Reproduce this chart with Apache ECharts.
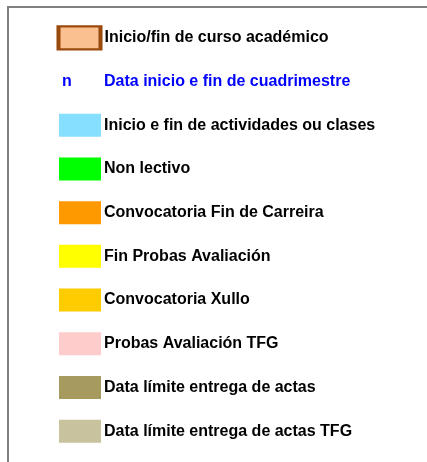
<!DOCTYPE html>
<html>
<head>
<meta charset="utf-8">
<script src="https://cdn.jsdelivr.net/npm/echarts@6/dist/echarts.min.js"></script>
<style>
html,body{margin:0;padding:0;background:#fff;}
#chart{width:427px;height:462px;}
</style>
</head>
<body>
<div id="chart"></div>
<script>
// Legend entries (top to bottom)
const categories = [
  'Inicio/fin de curso académico',
  'Data inicio e fin de cuadrimestre',
  'Inicio e fin de actividades ou clases',
  'Non lectivo',
  'Convocatoria Fin de Carreira',
  'Fin Probas Avaliación',
  'Convocatoria Xullo',
  'Probas Avaliación TFG',
  'Data límite entrega de actas',
  'Data límite entrega de actas TFG'
];
const swatchColors = [
  '#FAC090', null, '#87DFFF', '#00FF00', '#FF9900',
  '#FFFF00', '#FFCC00', '#FFCCCC', '#A69A5F', '#C9C29F'
];
const textMarkers = [null, 'n', null, null, null, null, null, null, null, null];
const labelColors = ['#000', '#0000FF', '#000', '#000', '#000', '#000', '#000', '#000', '#000', '#000'];

const SWATCH_X = 80;

const swatchData = [];
const markerData = [];
categories.forEach((name, i) => {
  if (swatchColors[i]) {
    const item = {
      name: name,
      value: [SWATCH_X, i],
      itemStyle: { color: swatchColors[i], opacity: 1 },
      label: { color: labelColors[i] }
    };
    if (i === 0) {
      item.value = [SWATCH_X - 0.5, i];
      item.itemStyle.borderColor = '#9A4A0C';
      item.itemStyle.borderWidth = 3;
      item.label.distance = 2;
    }
    swatchData.push(item);
  } else {
    swatchData.push({
      name: name,
      value: [SWATCH_X, i],
      itemStyle: { color: 'rgba(255,255,255,0)', opacity: 1 },
      label: { color: labelColors[i] }
    });
  }
  if (textMarkers[i]) {
    markerData.push({ name: textMarkers[i], value: [SWATCH_X, i] });
  }
});

const chart = echarts.init(document.getElementById('chart'), null, { renderer: 'canvas' });
chart.setOption({
  animation: false,
  backgroundColor: '#fff',
  grid: { left: 0, right: 0, top: 16, bottom: 9, containLabel: false },
  xAxis: { type: 'value', min: 0, max: 427, show: false },
  yAxis: { type: 'category', data: categories, inverse: true, show: false },
  graphic: [{
    type: 'polyline',
    shape: { points: [[8, 470], [8, 7], [430, 7]] },
    style: { stroke: '#808080', lineWidth: 2, fill: null },
    silent: true
  }],
  series: [
    {
      type: 'scatter',
      symbol: 'rect',
      symbolSize: [42, 23],
      itemStyle: { opacity: 1 },
      data: swatchData,
      label: {
        show: true,
        position: 'right',
        distance: 3,
        formatter: p => p.name,
        opacity: 1,
        fontFamily: '"Liberation Sans", Arial, sans-serif',
        fontWeight: 'bold',
        fontSize: 16
      },
      emphasis: { disabled: true },
      z: 2
    },
    {
      type: 'scatter',
      symbol: 'rect',
      symbolSize: [42, 23],
      itemStyle: { color: 'rgba(255,255,255,0)', opacity: 1 },
      data: markerData,
      label: {
        show: true,
        position: 'insideLeft',
        distance: 3,
        formatter: p => p.name,
        color: '#0000FF',
        opacity: 1,
        fontFamily: '"Liberation Sans", Arial, sans-serif',
        fontWeight: 'bold',
        fontSize: 16
      },
      emphasis: { disabled: true },
      z: 3
    }
  ]
});
</script>
</body>
</html>
